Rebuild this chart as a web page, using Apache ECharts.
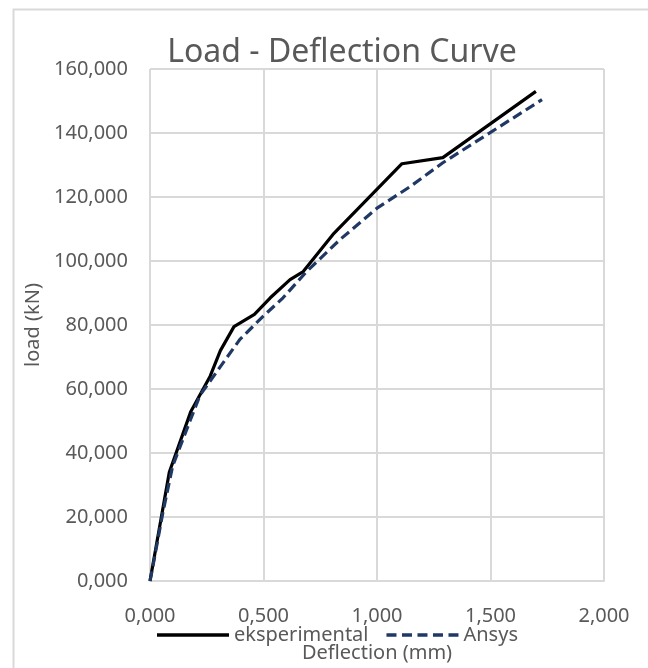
<!DOCTYPE html>
<html>
<head>
<meta charset="utf-8">
<script src="https://cdn.jsdelivr.net/npm/echarts@6/dist/echarts.min.js"></script>
<style>
html,body{margin:0;padding:0;background:#fff;}
#chart{width:648px;height:668px;}
</style>
</head>
<body>
<div id="chart"></div>
<script>
const expX = [0, 0.085, 0.18, 0.265, 0.31, 0.37, 0.46, 0.53, 0.617, 0.675, 0.806, 1.11, 1.29, 1.70];
const expY = [0, 34, 53, 64, 72, 79.5, 83.3, 88.5, 94.2, 96.7, 108.3, 130.4, 132.3, 153];
const ansX = [0, 0.013, 0.057, 0.10, 0.176, 0.22, 0.31, 0.396, 0.498, 0.586, 0.69, 0.837, 1.0, 1.145, 1.29, 1.54, 1.727];
const ansY = [0, 4.7, 21.5, 36, 50, 58, 67, 75.5, 82.7, 88.5, 96.7, 106.7, 116.5, 123.2, 130.7, 142, 150.4];
const seriesNames = ['eksperimental', 'Ansys'];
const titleText = 'Load - Deflection Curve';
const xName = 'Deflection (mm)';
const yName = 'load (kN)';

const fmt = v => v.toFixed(3).replace('.', ',');
const FONT = 'Noto Sans';
const GREY = '#595959';
const NAVY = '#1f3864';

const solidIcon = 'path://M0,0L72,0L72,3.4L0,3.4Z';
const dashIcon = 'path://M0,0L10,0L10,3.4L0,3.4ZM15.5,0L25.5,0L25.5,3.4L15.5,3.4ZM31,0L41,0L41,3.4L31,3.4ZM46.5,0L56.5,0L56.5,3.4L46.5,3.4ZM62,0L72,0L72,3.4L62,3.4Z';

const chart = echarts.init(document.getElementById('chart'), null, {renderer: 'canvas'});
chart.setOption({
  animation: false,
  textStyle: {fontFamily: FONT},
  graphic: [{
    type: 'rect', left: 11, top: 7, silent: true,
    shape: {width: 700, height: 700},
    style: {fill: 'none', stroke: '#d9d9d9', lineWidth: 2}
  }],
  title: {
    text: titleText, left: 337, textAlign: 'center', top: 32,
    textStyle: {fontFamily: FONT, fontSize: 32, fontWeight: 'normal', color: GREY}
  },
  legend: {
    left: 152, top: 620, itemWidth: 72, itemHeight: 3.4, itemGap: 18,
    textStyle: {fontFamily: FONT, fontSize: 20, color: GREY},
    data: [
      {name: seriesNames[0], icon: solidIcon, itemStyle: {color: '#000'}},
      {name: seriesNames[1], icon: dashIcon, itemStyle: {color: NAVY}}
    ]
  },
  grid: {left: 150, top: 69, right: 44, bottom: 81, containLabel: false},
  xAxis: {
    type: 'value', min: 0, max: 2, interval: 0.5,
    name: xName, nameLocation: 'middle', nameGap: 62,
    nameTextStyle: {fontFamily: FONT, fontSize: 20, color: GREY},
    axisLine: {show: true, lineStyle: {color: '#d9d9d9', width: 2}},
    axisTick: {show: false},
    axisLabel: {formatter: fmt, fontFamily: FONT, fontSize: 20, color: GREY, margin: 25},
    splitLine: {show: true, lineStyle: {color: '#d9d9d9', width: 2}}
  },
  yAxis: {
    type: 'value', min: 0, max: 160, interval: 20,
    name: yName, nameLocation: 'middle', nameGap: 101,
    nameTextStyle: {fontFamily: FONT, fontSize: 20, color: GREY},
    axisLine: {show: false},
    axisTick: {show: false},
    axisLabel: {formatter: fmt, fontFamily: FONT, fontSize: 20, color: GREY, margin: 22},
    splitLine: {show: true, lineStyle: {color: '#d9d9d9', width: 2}}
  },
  series: [
    {
      name: seriesNames[0], type: 'line', symbol: 'none',
      data: expX.map((x, i) => [x, expY[i]]),
      lineStyle: {color: '#000', width: 3.2},
      itemStyle: {color: '#000'}, z: 3
    },
    {
      name: seriesNames[1], type: 'line', symbol: 'none',
      data: ansX.map((x, i) => [x, ansY[i]]),
      lineStyle: {color: NAVY, width: 3.2, type: [10, 5]},
      itemStyle: {color: NAVY}, z: 4
    }
  ]
});
</script>
</body>
</html>
